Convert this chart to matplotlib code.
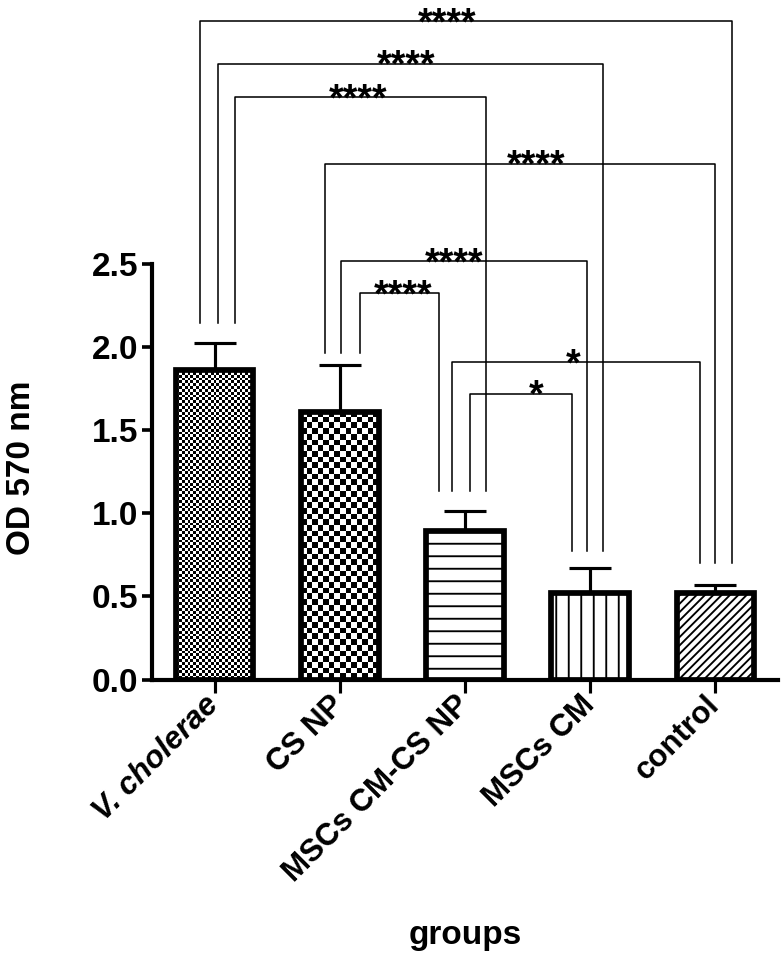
import numpy as np
import matplotlib.pyplot as plt

groups = ['V. cholerae', 'CS NP', 'MSCs CM-CS NP', 'MSCs CM', 'control']
od_mean = [1.86, 1.61, 0.89, 0.52, 0.52]
od_err = [0.16, 0.28, 0.12, 0.15, 0.05]

# multiple comparisons (group a, group b) and their significance
pairs = [(0, 4), (0, 3), (0, 2), (1, 4), (1, 3), (1, 2), (2, 4), (2, 3)]
signif = ['****', '****', '****', '****', '****', '****', '*', '*']

# bracket layout
bracket_y = [3.957, 3.70, 3.50, 3.10, 2.515, 2.32, 1.908, 1.716]
leg_offsets = [(-0.12, 0.136), (0.024, 0.104), (0.16, 0.168), (-0.12, 0.0),
               (0.008, -0.024), (0.16, -0.21), (-0.104, -0.12), (0.04, -0.144)]
leg_bottom = [2.14, 1.96, 1.13, 0.77, 0.70]
star_x = [1.856, 1.532, 1.148, 2.568, 1.912, 1.504, 2.864, 2.568]

plt.rcParams['font.family'] = 'Liberation Sans'
plt.rcParams['font.weight'] = 'bold'
plt.rcParams['axes.labelweight'] = 'bold'
plt.rcParams['hatch.linewidth'] = 1.8

DPI = 75
fig = plt.figure(figsize=(784 / DPI, 960 / DPI), dpi=DPI)
ax = fig.add_axes([152 / 784, 1 - 679.5 / 960, 626 / 784, 679.5 / 960])
ax.set_xlim(-0.5, 4.5)
ax.set_ylim(0, 679.5 / 166.4)

x = np.arange(len(groups))
hatches = [None, None, '-', '|', '///']
bars = ax.bar(x, od_mean, width=0.62, color='white', edgecolor='black',
              linewidth=5.5, zorder=3)
for b, h in zip(bars, hatches):
    if h:
        b.set_hatch(h)

# checkerboard fills for the first two bars
p = ax.transData.transform([[0, 0], [1, 1]])
ppx, ppy = p[1] - p[0]
for i, cell in [(0, 2.85), (1, 5.7)]:
    b = bars[i]
    b.set_facecolor('none')
    x0, w, h = b.get_x(), b.get_width(), b.get_height()
    nx = int(round(w * ppx / cell))
    ny = int(round(h * ppy / cell))
    board = np.indices((ny, nx)).sum(axis=0) % 2
    im = ax.imshow(board, cmap='gray_r', extent=(x0, x0 + w, 0, h), origin='lower',
                   interpolation='nearest', aspect='auto', zorder=2)
    im.set_clip_path(b)

eb = ax.errorbar(x, od_mean, yerr=[np.zeros(len(x)), od_err], fmt='none', ecolor='black',
                 elinewidth=3, capsize=20, capthick=3, zorder=2)
for cl in eb[1]:
    if np.allclose(cl.get_ydata(), od_mean):
        cl.set_visible(False)

for (a, b), lab, yb, (oa, ob), sx in zip(pairs, signif, bracket_y, leg_offsets, star_x):
    xa, xb = x[a] + oa, x[b] + ob
    ax.plot([xa, xa, xb, xb], [leg_bottom[a], yb, yb, leg_bottom[b]],
            color='black', lw=1.5, clip_on=False, zorder=1)
    ax.annotate(lab, (sx, yb), xytext=(0, -12.5), textcoords='offset points',
                ha='center', va='baseline', fontsize=36, annotation_clip=False)

ax.set_xlim(-0.5, 4.5)
ax.set_ylim(0, 679.5 / 166.4)

for s in ['top', 'right']:
    ax.spines[s].set_visible(False)
ax.spines['left'].set_bounds(0, 2.5)
ax.spines['left'].set_linewidth(4)
ax.spines['bottom'].set_linewidth(4)

ax.set_yticks([0, 0.5, 1.0, 1.5, 2.0, 2.5], ['0.0', '0.5', '1.0', '1.5', '2.0', '2.5'])
ax.tick_params(axis='y', length=10, width=3.5, labelsize=32, pad=3)
ax.set_xticks(x, groups, rotation=45, ha='right', va='center', rotation_mode='anchor')
ax.tick_params(axis='x', length=12, width=3, labelsize=30, pad=8)
ax.get_xticklabels()[0].set_style('italic')

ax.set_ylabel('OD 570 nm', fontsize=32, va='center')
ax.yaxis.set_label_coords(-130 / 626, 211.5 / 679.5)
ax.set_xlabel('groups', fontsize=32, va='baseline')
ax.xaxis.set_label_coords(0.5, -(944 - 679.5) / 679.5)

fig.savefig('out.png', dpi=DPI)
